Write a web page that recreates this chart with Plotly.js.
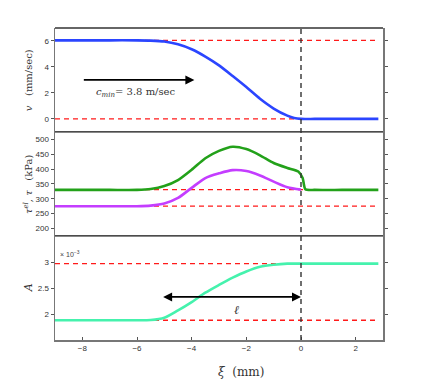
<!DOCTYPE html>
<html>
<head>
<meta charset="utf-8">
<script src="https://cdn.plot.ly/plotly-3.0.1.min.js"></script>
<style>
  html, body { margin: 0; padding: 0; background: #fff; }
  #chart { width: 424px; height: 383px; }
</style>
</head>
<body>
<div id="chart"></div>
<script>
// velocity panel
var xiV = [-9, -7, -6, -5.5, -5, -4.5, -4, -3.5, -3, -2.5, -2, -1.5, -1, -0.5, -0.25, 0, 0.5, 1.5, 2.83];
var vel = [6.05, 6.05, 6.05, 6.03, 5.96, 5.74, 5.36, 4.8, 4.12, 3.3, 2.45, 1.55, 0.8, 0.25, 0.07, 0, 0, 0, 0];

// stress panel
var xiEl = [-9, -7, -6, -5.5, -5, -4.5, -4, -3.5, -3, -2.5, -2, -1.5, -1, -0.5, -0.1, 0.06, 0.16, 0.5, 1.5, 2.83];
var tauEl = [330, 330, 330, 333, 343, 363, 398, 437, 462, 476, 468, 447, 421, 404, 392, 370, 332, 330, 330, 330];
var xiTau = [-9, -7, -6, -5.5, -5, -4.5, -4, -3.5, -3, -2.5, -2, -1.5, -1, -0.5, 0];
var tau = [275, 275, 275, 277, 284, 303, 337, 370, 386, 397, 394, 379, 358, 339, 331];

// A panel (x 10^-3)
var xiA = [-9, -7, -6, -5.5, -5, -4.5, -4, -3.5, -3, -2.5, -2, -1.5, -1, -0.5, 0, 1, 2.83];
var areaA = [1.88, 1.88, 1.88, 1.885, 1.93, 2.07, 2.23, 2.41, 2.56, 2.7, 2.82, 2.91, 2.95, 2.97, 2.97, 2.97, 2.97];

// reference levels
var xiRef = [-9, 2.83];
var vRefs = [6.05, 0];
var tauRefs = [331, 275];
var aRefs = [2.97, 1.88];

var xTicks = [-8, -6, -4, -2, 0, 2];

var red = {color: '#ff1a1a', width: 1.3, dash: '5px,4px'};
var data = [];
vRefs.forEach(function (r) {
  data.push({x: xiRef, y: [r, r], mode: 'lines', line: red, yaxis: 'y', hoverinfo: 'skip'});
});
tauRefs.forEach(function (r) {
  data.push({x: xiRef, y: [r, r], mode: 'lines', line: red, yaxis: 'y2', hoverinfo: 'skip'});
});
aRefs.forEach(function (r) {
  data.push({x: xiRef, y: [r, r], mode: 'lines', line: red, yaxis: 'y3', hoverinfo: 'skip'});
});

data.push({x: xiV, y: vel, mode: 'lines', yaxis: 'y',
  line: {color: '#2b45ff', width: 2.6, shape: 'spline', smoothing: 0.7}});
data.push({x: xiTau, y: tau, mode: 'lines', yaxis: 'y2',
  line: {color: '#c43dff', width: 2.6, shape: 'spline', smoothing: 0.8}});
data.push({x: xiEl, y: tauEl, mode: 'lines', yaxis: 'y2',
  line: {color: '#23a11a', width: 2.6, shape: 'spline', smoothing: 0.6}});
data.push({x: xiA, y: areaA, mode: 'lines', yaxis: 'y3',
  line: {color: '#45f2ad', width: 2.6, shape: 'spline', smoothing: 0.8}});

var tickFont = {family: 'Liberation Sans, Arial, sans-serif', size: 8, color: '#333'};
var serif = 'DejaVu Serif, Liberation Serif, serif';

function yax(dom, range, vals) {
  return {
    domain: dom, range: range, tickvals: vals, tickfont: tickFont,
    showgrid: false, zeroline: false, showline: true, linecolor: '#777', linewidth: 1.5,
    mirror: 'ticks', ticks: 'outside', ticklen: 3, tickcolor: '#555', anchor: 'x'
  };
}

function ytitle(y, text, size) {
  return {xref: 'paper', yref: 'paper', x: -0.082, y: y, xanchor: 'center', yanchor: 'middle',
    textangle: -90, showarrow: false, text: text, font: {family: serif, size: size, color: '#333'}};
}

var layout = {
  width: 424, height: 383,
  margin: {l: 55, r: 41, t: 28, b: 43},
  showlegend: false,
  paper_bgcolor: '#fff', plot_bgcolor: '#fff',
  xaxis: {
    range: [-9, 3], tickvals: xTicks, tickfont: tickFont, anchor: 'y3',
    showgrid: false, zeroline: false, showline: true, linecolor: '#777', linewidth: 1.5,
    ticks: 'inside', ticklen: 3, tickcolor: '#555'
  },
  yaxis: yax([0.667, 1], [-1, 7], [0, 2, 4, 6]),
  yaxis2: yax([0.334, 0.666], [175, 525], [200, 250, 300, 350, 400, 450, 500]),
  yaxis3: yax([0, 0.333], [1.5, 3.5], [2, 2.5, 3]),
  shapes: [
    {type: 'line', xref: 'paper', yref: 'paper', x0: 0, x1: 1, y0: 1, y1: 1, line: {color: '#333', width: 1.5}},
    {type: 'line', xref: 'paper', yref: 'paper', x0: 0, x1: 1, y0: 0.667, y1: 0.667, line: {color: '#111', width: 1.3}},
    {type: 'line', xref: 'paper', yref: 'paper', x0: 0, x1: 1, y0: 0.334, y1: 0.334, line: {color: '#111', width: 1.3}},
    {type: 'line', xref: 'x', yref: 'paper', x0: 0, x1: 0, y0: 0, y1: 1, line: {color: '#333', width: 1.4, dash: '5px,4px'}}
  ],
  annotations: [
    ytitle(0.833, '<i>v</i>   (mm/sec)', 10),
    ytitle(0.5, '<i>τ<sup>el</sup></i>, <i>τ</i>   (kPa)', 10),
    ytitle(0.166, '<i>A</i>', 11),
    {xref: 'paper', yref: 'paper', x: 0.567, y: -0.103, xanchor: 'center', yanchor: 'middle', showarrow: false,
      text: '<i>ξ</i>  (mm)', font: {family: serif, size: 12, color: '#333'}},
    {xref: 'paper', yref: 'paper', x: 0.009, y: 0.295, xanchor: 'left', yanchor: 'top', showarrow: false,
      text: '× 10<sup>−3</sup>', font: {family: 'Liberation Sans, Arial, sans-serif', size: 7, color: '#444'}},
    // propagation arrow
    {xref: 'x', yref: 'y', x: -3.9, y: 3, axref: 'x', ayref: 'y', ax: -8, ay: 3,
      showarrow: true, arrowhead: 2, arrowsize: 1, arrowwidth: 1.8, arrowcolor: '#000', text: ''},
    {xref: 'x', yref: 'y', x: -6.05, y: 2, showarrow: false,
      text: '<i>c<sub>min</sub></i>= 3.8 m/sec', font: {family: serif, size: 10, color: '#333'}},
    // length arrow
    {xref: 'x', yref: 'y3', x: 0, y: 2.33, axref: 'x', ayref: 'y3', ax: -5.1, ay: 2.33,
      showarrow: true, arrowhead: 2, startarrowhead: 2, arrowside: 'end+start', arrowsize: 1,
      arrowwidth: 1.8, arrowcolor: '#000', text: ''},
    {xref: 'x', yref: 'y3', x: -2.35, y: 2.07, showarrow: false,
      text: '<i>ℓ</i>', font: {family: serif, size: 12, color: '#333'}}
  ]
};

Plotly.newPlot('chart', data, layout, {displayModeBar: false, staticPlot: true});
</script>
</body>
</html>
